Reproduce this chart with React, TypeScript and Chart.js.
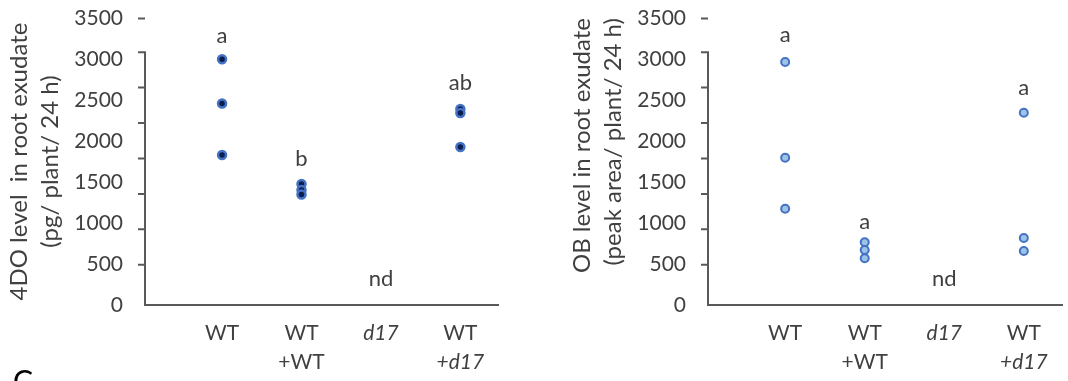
import React, { useEffect, useRef } from "react";
import { Chart, registerables } from "chart.js";

Chart.register(...registerables);

// ---------- data ----------
const categoriesLine1 = ["WT", "WT", "d17", "WT"];
const categoriesLine2 = ["", "+WT", "", "+d17"];
const yMin = 0;
const yMax = 3500;
const yStep = 500;
const tickMarkValues = [500, 1000, 1500, 2000, 2500, 3000, 3500];

// 4DO (pg / plant / 24 h)
const doWT = [2996, 2457, 1829];
const doWTplusWT = [1476, 1402, 1348];
const dod17: number[] = [];
const doWTplusd17 = [2390, 2341, 1927];
const doLetters = ["a", "b", "nd", "ab"];
const doLetterY = [3280, 1780, 317, 2707];
const doTitle = ["4DO level  in root exudate", "(pg/ plant/ 24 h)"];

// OB (peak area / plant / 24 h)
const obWT = [2963, 1796, 1174];
const obWTplusWT = [765, 671, 570];
const obd17: number[] = [];
const obWTplusd17 = [2345, 817, 659];
const obLetters = ["a", "a", "nd", "a"];
const obLetterY = [3293, 1012, 317, 2646];
const obTitle = ["OB level in root exudate", "(peak area/ plant/ 24 h)"];

// ---------- style ----------
const TEXT = "#404040";
const AXIS = "#595959";
const FONT = "Lato";
const W = 505;
const H = 381;

type PanelProps = {
  groups: number[][];
  letters: string[];
  letterY: number[];
  title: string[];
  titleAlign: "start" | "center" | "end";
  fill: string;
  border: string;
  borderWidth: number;
};

function Panel(props: PanelProps) {
  const ref = useRef<HTMLCanvasElement | null>(null);
  useEffect(() => {
    if (!ref.current) return;
    const { groups, letters, letterY, title, titleAlign, fill, border, borderWidth } = props;
    const points = groups.flatMap((vals, i) => vals.map((v) => ({ x: i + 1, y: v })));

    const overlay = {
      id: "overlay",
      afterDraw(chart: any) {
        const { ctx, chartArea, scales } = chart;
        const y2 = scales.y2;
        const xs = scales.x;
        const ys = scales.y;
        ctx.save();
        ctx.strokeStyle = AXIS;
        ctx.lineWidth = 2;
        ctx.beginPath();
        ctx.moveTo(chartArea.left, chartArea.bottom);
        ctx.lineTo(chartArea.left, y2.getPixelForValue(tickMarkValues[tickMarkValues.length - 1]) - 1);
        for (const v of tickMarkValues) {
          const py = y2.getPixelForValue(v);
          ctx.moveTo(chartArea.left - 7, py);
          ctx.lineTo(chartArea.left, py);
        }
        ctx.stroke();
        ctx.fillStyle = TEXT;
        ctx.font = `22px ${FONT}`;
        ctx.textAlign = "center";
        ctx.textBaseline = "middle";
        letters.forEach((t, i) => {
          ctx.fillText(t, xs.getPixelForValue(i + 1), ys.getPixelForValue(letterY[i]));
        });
        ctx.restore();
      },
    };

    const setTicks = (s: any) => {
      s.ticks = categoriesLine1.map((_, i) => ({ value: i + 1 }));
    };
    const tickFont = (lines: string[]) => (c: any) => ({
      family: FONT,
      size: 21,
      lineHeight: 1.2,
      style: (lines[c.index] || "").includes("d17") ? "italic" : "normal",
    });
    const noPad = (s: any) => {
      s.paddingTop = 0;
      s.paddingBottom = 0;
      s.paddingLeft = 0;
      s.paddingRight = 0;
    };

    const chart = new Chart(ref.current, {
      type: "scatter",
      data: {
        datasets: [
          {
            data: points,
            backgroundColor: fill,
            borderColor: border,
            borderWidth: borderWidth,
            pointRadius: 4,
            pointHoverRadius: 4,
          },
        ],
      },
      options: {
        animation: false,
        responsive: false,
        layout: { padding: { top: 18, left: 0, right: 0, bottom: 0 } },
        plugins: { legend: { display: false }, tooltip: { enabled: false } },
        scales: {
          x: {
            type: "linear",
            position: "bottom",
            weight: 0,
            min: 0.03,
            max: 4.48,
            afterBuildTicks: setTicks,
            afterFit: (s: any) => {
              s.height = 44;
              noPad(s);
            },
            ticks: {
              autoSkip: false,
              maxRotation: 0,
              minRotation: 0,
              padding: 16,
              color: TEXT,
              font: tickFont(categoriesLine1) as any,
              callback: (_v: any, i: number) => categoriesLine1[i],
            },
            grid: { display: false, drawTicks: false },
            border: { display: true, color: AXIS, width: 2 },
          },
          x2: {
            type: "linear",
            position: "bottom",
            weight: 1,
            min: 0.03,
            max: 4.48,
            afterBuildTicks: setTicks,
            afterFit: (s: any) => {
              s.height = 32;
              noPad(s);
            },
            ticks: {
              autoSkip: false,
              maxRotation: 0,
              minRotation: 0,
              padding: 1,
              color: TEXT,
              font: tickFont(categoriesLine2) as any,
              callback: (_v: any, i: number) => categoriesLine2[i],
            },
            grid: { display: false, drawTicks: false },
            border: { display: false },
          },
          y: {
            type: "linear",
            position: "left",
            min: yMin,
            max: yMax,
            afterFit: (s: any) => {
              s.width = 145;
              noPad(s);
            },
            ticks: {
              stepSize: yStep,
              padding: 15,
              color: TEXT,
              font: { family: FONT, size: 21 },
              callback: (v: any) => String(v),
            },
            grid: {
              drawOnChartArea: false,
              tickLength: 7,
              tickWidth: 2,
              tickColor: (c: any) => (c.tick && c.tick.value === yMax ? AXIS : "rgba(0,0,0,0)"),
            },
            border: { display: false },
            title: {
              display: true,
              text: title,
              align: titleAlign,
              color: TEXT,
              font: { family: FONT, size: 24, lineHeight: 1.29 },
              padding: { top: 3.5, bottom: 0 },
            },
          },
          y2: {
            type: "linear",
            display: false,
            min: -68,
            max: 3982,
          },
        },
      } as any,
      plugins: [overlay],
    });
    return () => chart.destroy();
  }, []);
  return <canvas ref={ref} width={W} height={H} style={{ width: W, height: H, display: "block" }} />;
}

export default function App() {
  return (
    <div
      style={{
        position: "fixed",
        left: 0,
        top: 0,
        width: 1068,
        height: 381,
        overflow: "hidden",
        background: "#ffffff",
      }}
    >
      <div style={{ position: "absolute", left: 0, top: 0 }}>
        <Panel
          groups={[doWT, doWTplusWT, dod17, doWTplusd17]}
          letters={doLetters}
          letterY={doLetterY}
          title={doTitle}
          titleAlign="center"
          fill="#0B1F4F"
          border="#4472C4"
          borderWidth={2.5}
        />
      </div>
      <div style={{ position: "absolute", left: 563, top: 0 }}>
        <Panel
          groups={[obWT, obWTplusWT, obd17, obWTplusd17]}
          letters={obLetters}
          letterY={obLetterY}
          title={obTitle}
          titleAlign="end"
          fill="#9DC3E6"
          border="#4472C4"
          borderWidth={2}
        />
      </div>
      <div
        style={{
          position: "absolute",
          left: 13,
          top: 365,
          fontFamily: FONT,
          fontSize: 30,
          lineHeight: 1,
          color: "#000000",
        }}
      >
        C
      </div>
    </div>
  );
}
